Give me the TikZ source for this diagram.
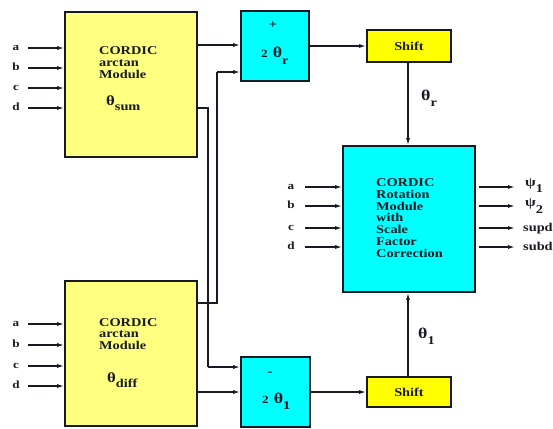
\documentclass[tikz,border=0pt]{standalone}
\usepackage{fontspec}
\setmainfont{Liberation Serif}[FakeStretch=1.2]
\usetikzlibrary{arrows.meta}
\definecolor{paleY}{RGB}{255,255,128}
\definecolor{cyanB}{RGB}{0,255,255}
\definecolor{shiftY}{RGB}{255,255,0}
\definecolor{ink}{RGB}{25,25,35}
\begin{document}
\begin{tikzpicture}[x=1bp,y=-1bp,
  blk/.style={draw=ink, line width=1.6bp, inner sep=0},
  arr/.style={-{Latex[length=7bp,width=4bp]}, line width=1.3bp, draw=ink},
  wire/.style={line width=1.3bp, draw=ink},
  txt/.style={font=\bfseries\fontsize{12}{11.8}\selectfont, inner sep=0, align=left, text=ink},
  lbl/.style={font=\bfseries\fontsize{11}{12}\selectfont, inner sep=0, text=ink, text height=1.2ex, text depth=0pt},
  sym/.style={font=\bfseries\fontsize{12}{12}\selectfont, inner sep=0, text=ink, anchor=base west}]
\useasboundingbox (0,0) rectangle (553,428);
% boxes
\node[blk, fill=paleY, minimum width=132bp, minimum height=145bp] (top) at (131,84.5) {};
\node[blk, fill=paleY, minimum width=132bp, minimum height=145bp] (bot) at (131,353.5) {};
\node[blk, fill=cyanB, minimum width=68bp, minimum height=70bp] (plus) at (275,46) {};
\node[blk, fill=cyanB, minimum width=69bp, minimum height=70bp] (minus) at (275.5,392) {};
\node[blk, fill=shiftY, minimum width=84bp, minimum height=32bp, font=\bfseries\fontsize{12}{12}\selectfont, text=ink] (sh1) at (409,46) {Shift};
\node[blk, fill=shiftY, minimum width=84bp, minimum height=30bp, font=\bfseries\fontsize{12}{12}\selectfont, text=ink] (sh2) at (409,392) {Shift};
\node[blk, fill=cyanB, minimum width=132bp, minimum height=146bp] (rot) at (409,219) {};
% box texts
\node[txt, anchor=north west] (ttop) at (99,46.5) {CORDIC\\arctan\\Module};
\node[sym] (tsum) at (106,105) {{\fontsize{14}{14}\selectfont θ}\raisebox{-5bp}{sum}};
\node[txt, anchor=north west] (tbot) at (99,318) {CORDIC\\arctan\\Module};
\node[sym] (tdiff) at (107,382) {{\fontsize{14}{14}\selectfont θ}\raisebox{-5bp}{diff}};
\node[txt, anchor=north west] (trot) at (376,178.5) {CORDIC\\Rotation\\Module\\with\\Scale\\Factor\\Correction};
\node[sym, anchor=center] (tplus) at (273,25) {+};
\node[sym] (t2r) at (261,57) {{\fontsize{11}{11}\selectfont 2}\hspace{5bp}{\fontsize{15}{15}\selectfont θ}\raisebox{-7bp}{r}};
\node[sym, anchor=center] (tminus) at (270,374) {-};
\node[sym] (t21) at (262,403) {{\fontsize{11}{11}\selectfont 2}\hspace{5bp}{\fontsize{15}{15}\selectfont θ}\raisebox{-6bp}{1}};
% inputs of top box
\foreach \n/\t/\y in {ta/a/48, tb/b/68, tc/c/88, td/d/108}{
  \node[lbl] (\n) at (16,\y) {\t};
  \draw[arr] ([xshift=12bp]\n.center) -- (\n.center -| top.west);
}
\foreach \n/\t/\y in {ba/a/324, bb/b/345, bc/c/366, bd/d/386}{
  \node[lbl] (\n) at (16,\y) {\t};
  \draw[arr] ([xshift=12bp]\n.center) -- (\n.center -| bot.west);
}
\foreach \n/\t/\y in {ra/a/187, rb/b/206, rc/c/228, rd/d/247}{
  \node[lbl] (\n) at (291,\y) {\t};
  \draw[arr] ([xshift=14bp]\n.center) -- (\n.center -| rot.west);
}
% outputs
\node[sym] (o1) at (525,186) {{\fontsize{13}{13}\selectfont ψ}\raisebox{-6bp}{1}};
\node[sym] (o2) at (525,206) {{\fontsize{13}{13}\selectfont ψ}\raisebox{-7bp}{2}};
\node[sym] (o3) at (523,231) {supd};
\node[sym] (o4) at (523,250) {subd};
\coordinate (e1) at (515,187);
\coordinate (e2) at (515,206);
\coordinate (e3) at (515,228);
\coordinate (e4) at (515,247);
\foreach \e in {e1,e2,e3,e4}{
  \draw[arr] ([xshift=3bp]\e -| rot.east) -- (\e);
}
% connections
\draw[arr] (top.east |- 0,45) -- (plus.west |- 0,45);
\draw[wire] (top.east |- 0,108) -- (208,108) -- (208,367);
\draw[arr] (208,367) -- (minus.west |- 0,367);
\draw[wire] (bot.east |- 0,303) -- (217,303) -- (217,72);
\draw[arr] (217,72) -- (plus.west |- 0,72);
\draw[arr] (bot.east |- 0,392) -- (minus.west |- 0,392);
\draw[arr] (plus.east) -- (sh1.west);
\draw[arr] (minus.east) -- (sh2.west);
\draw[arr] (sh1.south -| 408,0) -- (rot.north -| 408,0);
\draw[arr] (sh2.north -| 408,0) -- (rot.south -| 408,0);
\node[sym] (lr) at (421,100) {{\fontsize{15}{15}\selectfont θ}\raisebox{-6bp}{r}};
\node[sym] (l1) at (418,338) {{\fontsize{15}{15}\selectfont θ}\raisebox{-6bp}{1}};
\end{tikzpicture}
\end{document}
